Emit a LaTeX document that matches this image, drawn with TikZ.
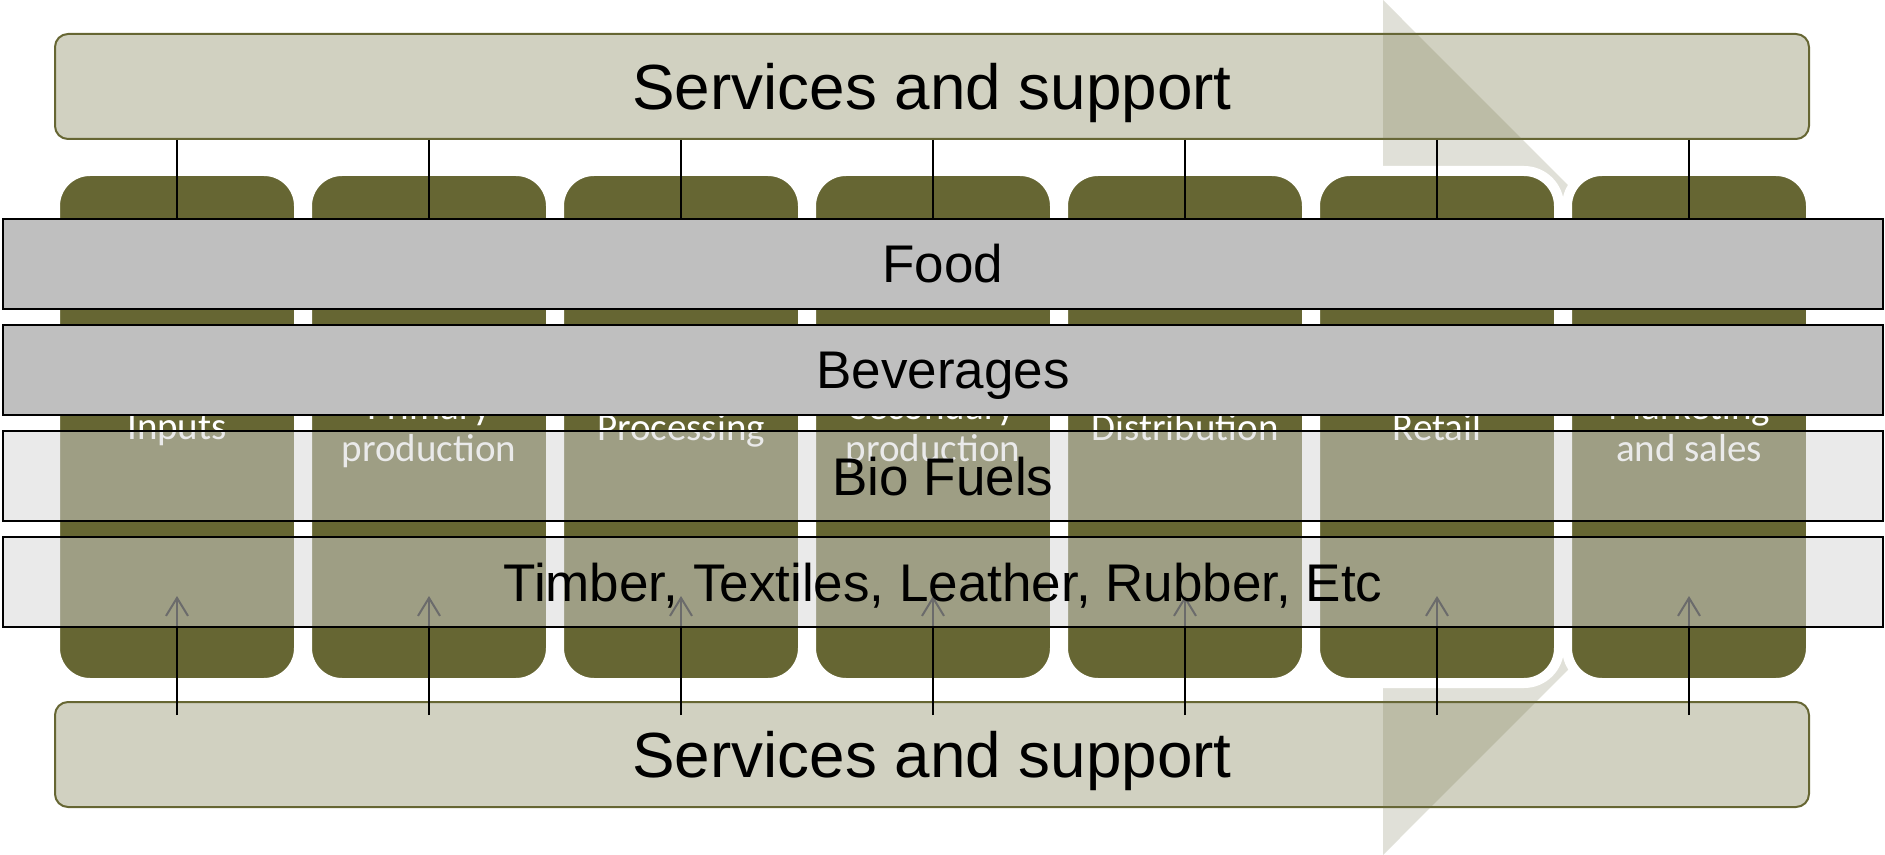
\documentclass[tikz,border=0pt]{standalone}
\usepackage{fontspec}
\setmainfont{Liberation Sans}
\newfontfamily\stagefont{Carlito}
\usetikzlibrary{arrows.meta,calc}

\definecolor{olivebox}{RGB}{102,102,51}
\definecolor{supportfill}{RGB}{209,209,193}
\definecolor{flowfill}{RGB}{110,110,70}
\definecolor{bandgray}{RGB}{191,191,191}
\definecolor{bandlight}{RGB}{214,214,214}

\tikzset{
  support/.style={draw=olivebox, line width=1pt, fill=supportfill, rounded corners=6.5pt,
    minimum width=877pt, minimum height=52.5pt, text height=23pt, text depth=0pt,
    font=\fontsize{31.9}{38}\selectfont},
  stage/.style={fill=olivebox, draw=white, line width=5pt, rounded corners=17.5pt, outer sep=0pt,
    minimum width=122pt, minimum height=256pt, text=white, align=center, text depth=0pt,
    font=\stagefont\fontsize{19.5}{21}\selectfont},
  band/.style={draw=black, line width=1.1pt, minimum width=940pt, minimum height=45pt,
    text height=19pt, text depth=0pt, font=\fontsize{26.5}{31}\selectfont},
  solid band/.style={band, fill=bandgray},
  clear band/.style={band, fill=bandlight, fill opacity=0.5, text opacity=1},
  link/.style={line width=1pt},
}

\begin{document}
\begin{tikzpicture}[x=0.5pt,y=-0.5pt]
      \useasboundingbox (0,0) rectangle (1885,855);
      \node[support] (svctop) at (932,86.5) {Services and support};
      \node[support] (svcbot) at (932,754.5) {Services and support};

      \fill[flowfill, fill opacity=0.21] (65,215) -- (1383,215) -- (1383,0) -- (1810,427.5)
        -- (1383,855) -- (1383,640) -- (65,640) -- cycle;

      \foreach \i/\name in {1/Inputs, 2/{Primary\\production}, 3/Processing,
          4/{Secondary\\production}, 5/Distribution, 6/Retail, 7/{Marketing\\and sales}}
        \node[stage] (s\i) at ({177+252*(\i-1)},427) {\name};

      \foreach \i in {1,...,7}
      {
        \draw[link] (svctop.south -| s\i) -- ($(s\i.north)+(0,55)$);
        \draw[link,-{Straight Barb[length=9pt,width=11pt]}] ($(svcbot.north -| s\i)+(0,14)$) -- ($(s\i.south)+(0,-87)$);
      }

      \node[solid band] (food) at (943,264) {Food};
      \node[solid band] (bev) at (943,370) {Beverages};
      \node[clear band] (bio) at (943,476) {Bio Fuels};
      \node[clear band] (timber) at (943,582) {Timber, Textiles, Leather, Rubber, Etc};
    \end{tikzpicture}
\end{document}
